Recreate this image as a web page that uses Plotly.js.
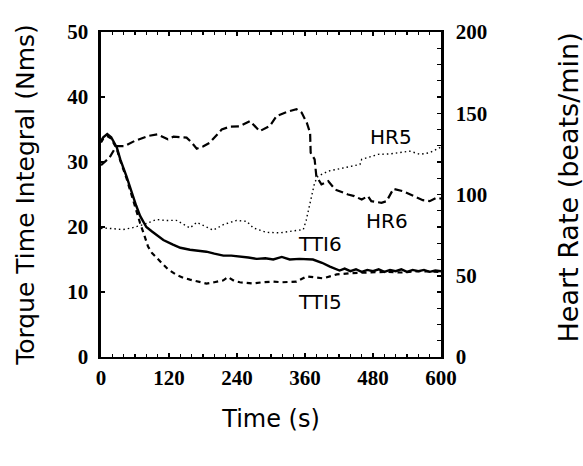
<!DOCTYPE html>
<html>
<head>
<meta charset="utf-8">
<script src="https://cdn.plot.ly/plotly-3.0.1.min.js"></script>
<style>
html,body{margin:0;padding:0;background:#fff;}
#chart{width:583px;height:466px;}
</style>
</head>
<body>
<div id="chart"></div>
<script>
// Torque Time Integral, trial 6 (solid)
const tti6Time = [0, 4, 11, 18, 28, 34, 45, 54, 62, 69, 80, 90, 98, 110, 127, 140, 157, 170, 186, 200, 216, 230, 245, 260, 275, 290, 304, 319, 333, 350, 374, 390, 404, 421, 430, 440, 450, 460, 470, 480, 490, 500, 510, 520, 530, 540, 550, 560, 570, 580, 590, 600];
const tti6Values = [33.2, 33.8, 34.3, 33.8, 32.2, 30.4, 27.8, 25.3, 23.3, 21.7, 20.0, 19.3, 18.8, 18.0, 17.3, 16.8, 16.5, 16.4, 16.2, 15.9, 15.6, 15.6, 15.5, 15.3, 15.1, 15.2, 15.0, 15.4, 15.0, 15.1, 15.0, 14.5, 13.9, 13.3, 13.6, 13.2, 13.5, 13.1, 13.4, 13.2, 13.5, 13.1, 13.4, 13.2, 13.5, 13.1, 13.4, 13.2, 13.4, 13.1, 13.3, 13.2];

// Torque Time Integral, trial 5 (short dashes)
const tti5Time = [0, 4, 11, 18, 28, 34, 45, 54, 62, 69, 75, 83, 90, 104, 118, 133, 145, 157, 170, 186, 200, 216, 224, 235, 245, 268, 285, 304, 320, 333, 345, 363, 378, 392, 416, 440, 470, 500, 530, 560, 600];
const tti5Values = [33.0, 33.6, 34.0, 33.6, 32.0, 30.2, 27.5, 24.8, 22.5, 20.6, 19.1, 17.0, 16.0, 14.7, 13.5, 12.65, 12.2, 11.9, 11.6, 11.3, 11.5, 11.8, 12.3, 11.7, 11.5, 11.3, 11.5, 11.6, 11.5, 11.5, 11.6, 12.4, 12.3, 12.1, 12.7, 12.9, 13.0, 13.1, 13.0, 13.2, 13.1];

// Heart rate, trial 6 (long dashes)
const hr6Time = [0, 5, 15, 27, 42, 59, 83, 100, 118, 128, 151, 160, 169, 180, 192, 213, 228, 245, 263, 280, 298, 310, 328, 345, 354, 363, 369, 370, 377, 380, 389, 401, 413, 436, 447, 460, 471, 477, 495, 504, 516, 533, 551, 568, 580, 592, 600];
const hr6Values = [118, 119.6, 122.7, 129.8, 129.8, 132.9, 136, 137, 134, 135.6, 135, 132, 128.2, 129.5, 131.9, 140, 141.8, 142, 145.2, 139, 142.2, 148.3, 150.8, 152.5, 150.4, 144.3, 138, 125.7, 121.6, 111.3, 106.2, 108.2, 103.1, 100, 99, 96.9, 99, 95.9, 94.9, 95.9, 103.5, 102, 99, 96.5, 95.9, 98, 97.5];

// Heart rate, trial 5 (dotted)
const hr5Time = [0, 4, 20, 39, 55, 75, 98, 115, 133, 157, 169, 185, 198, 216, 239, 257, 269, 292, 316, 333, 357, 362, 366, 372, 377, 383, 401, 430, 457, 460, 489, 510, 527, 545, 563, 580, 598, 600];
const hr5Values = [79, 79.4, 79, 78.4, 79.5, 81.5, 84.6, 84, 84.1, 79.4, 82.9, 80, 78, 81.5, 84, 83.5, 79.4, 76.7, 76.4, 77.3, 78.4, 84, 90.7, 101, 107.2, 111.3, 114.4, 116.5, 118.5, 121.6, 124.7, 125, 125.7, 126.7, 124.7, 125.7, 128.8, 129];

const timeTicks = [0, 120, 240, 360, 480, 600];
const ttiTicks = [0, 10, 20, 30, 40, 50];
const hrTicks = [0, 50, 100, 150, 200];

const seriesLabels = [
  {text: 'TTI6', x: 386, y: 17.4, yref: 'y'},
  {text: 'TTI5', x: 386, y: 8.4, yref: 'y'},
  {text: 'HR6', x: 505, y: 83.5, yref: 'y2'},
  {text: 'HR5', x: 511, y: 135.2, yref: 'y2'}
];

const hrTitle = 'Heart Rate (beats/min)';

const tickFont = {family: 'Liberation Serif, Times New Roman, serif', size: 21, color: '#000', weight: 'bold'};
const titleFont = {family: 'DejaVu Sans', size: 24, color: '#000'};

const traces = [
  {x: tti6Time, y: tti6Values, yaxis: 'y', mode: 'lines', name: 'TTI6',
   line: {color: '#000', width: 2.4, dash: 'solid'}},
  {x: tti5Time, y: tti5Values, yaxis: 'y', mode: 'lines', name: 'TTI5',
   line: {color: '#000', width: 2.2, dash: '5px,4px'}},
  {x: hr6Time, y: hr6Values, yaxis: 'y2', mode: 'lines', name: 'HR6',
   line: {color: '#000', width: 2.2, dash: '8px,4px'}},
  {x: hr5Time, y: hr5Values, yaxis: 'y2', mode: 'lines', name: 'HR5',
   line: {color: '#000', width: 1.4, dash: '1.5px,3px'}}
];

const annotations = seriesLabels.map(l => ({
  text: l.text, x: l.x, y: l.y, xref: 'x', yref: l.yref,
  showarrow: false, xanchor: 'center', yanchor: 'middle',
  font: {family: 'DejaVu Sans', size: 20, color: '#000'}
}));
// right-hand axis title
annotations.push({
  text: hrTitle, xref: 'paper', yref: 'paper', x: 1.3765, y: 0.5215,
  textangle: -90, showarrow: false, xanchor: 'center', yanchor: 'middle',
  font: {family: 'DejaVu Sans', size: 27, color: '#000'}
});

const layout = {
  width: 583, height: 466,
  margin: {l: 101, r: 142, t: 32, b: 109},
  showlegend: false,
  paper_bgcolor: '#fff', plot_bgcolor: '#fff',
  xaxis: {
    range: [0, 600], tickvals: timeTicks, ticktext: timeTicks.map(String),
    ticks: 'inside', ticklen: 4, tickwidth: 1.5, tickcolor: '#000',
    showgrid: false, zeroline: false, showline: true, linecolor: '#000', linewidth: 1.8, mirror: 'ticks',
    tickfont: tickFont, ticklabelstandoff: 1,
    minor: {dtick: 20, ticks: 'inside', ticklen: 3, tickwidth: 1.2, tickcolor: '#000', showgrid: false},
    automargin: true,
    title: {text: 'Time (s)', font: titleFont, standoff: 21}
  },
  yaxis: {
    range: [0, 50], tickvals: ttiTicks, ticktext: ttiTicks.map(String),
    ticks: 'inside', ticklen: 4, tickwidth: 1.5, tickcolor: '#000',
    showgrid: false, zeroline: false, showline: true, linecolor: '#000', linewidth: 2.6,
    tickfont: tickFont, ticklabelstandoff: 6,
    automargin: true,
    title: {text: 'Torque Time Integral (Nms)', font: {family: 'DejaVu Sans', size: 25, color: '#000'}, standoff: 26}
  },
  yaxis2: {
    range: [0, 200], tickvals: hrTicks, ticktext: hrTicks.map(String),
    overlaying: 'y', side: 'right',
    ticks: 'inside', ticklen: 4, tickwidth: 1.5, tickcolor: '#000',
    showgrid: false, zeroline: false, showline: true, linecolor: '#000', linewidth: 2.6,
    tickfont: tickFont, ticklabelstandoff: 8,
    minor: {dtick: 10, ticks: 'inside', ticklen: 4, tickwidth: 1.2, tickcolor: '#000', showgrid: false},
    automargin: false
  },
  annotations: annotations
};

Plotly.newPlot('chart', traces, layout, {displayModeBar: false, staticPlot: true});
</script>
</body>
</html>
